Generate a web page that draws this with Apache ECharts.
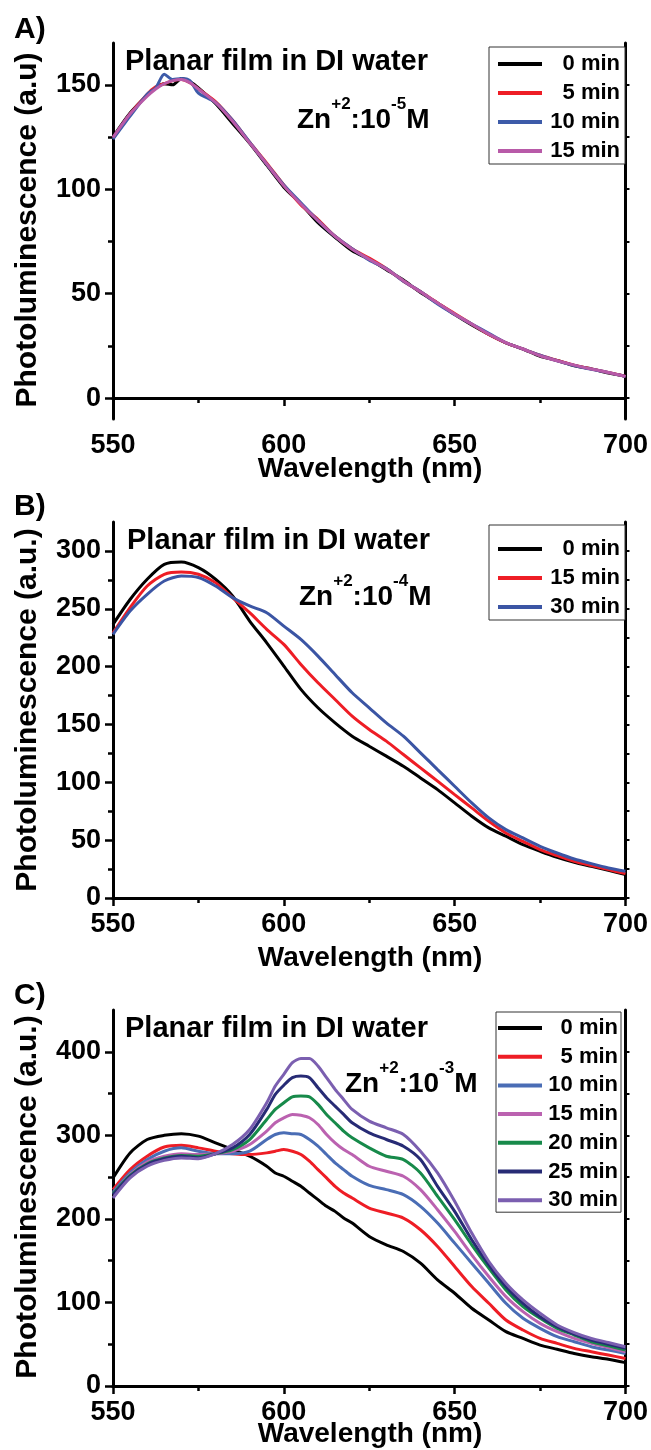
<!DOCTYPE html>
<html><head><meta charset="utf-8">
<script src="https://cdn.jsdelivr.net/npm/echarts@6/dist/echarts.min.js"></script>
<style>html,body{margin:0;padding:0;background:#fff}#chart{width:651px;height:1450px}</style>
</head><body><div id="chart"></div>
<script>
// ---------- DATA ----------
const xTicks = [550, 600, 650, 700];
const xMinorTicks = [575, 625, 675];

// Panel A  (Zn+2 10^-5 M)
const wlA = [550,555,560,562.5,565,567.5,570,572.5,575,580,585,590,595,600,605,610,615,620,625,630,635,640,645,650,655,660,665,670,675,680,685,690,695,700];
const A_0min  = [125,136.5,145,148.5,150.5,150,153,151.5,148.5,141,131.5,122,111.5,101,93,84,77,70.5,66.5,61.5,56.5,50.5,45.5,40,35,30.5,26.5,23.5,20,18,15.5,14,12,10.5];
const A_5min  = [124.5,136,145.5,149,150.5,152,152.5,151,148,142,133,122.5,112.5,102,92.5,85.5,77.5,71.5,67,62,56,51,45.5,40.5,35.5,30.5,26.5,23.5,20.5,18,15.8,14,12.3,10.4];
const A_10min = [124,135,145.5,148.5,155,152.5,153,152,146,141.5,133,122.5,112,102,93.5,85,77.5,71.5,66,62,56,51,45,40,35.5,31,26.5,23.5,20.5,17.8,15.6,13.8,12.2,10.3];
const A_15min = [124.8,136,144.5,148,150.5,152,152.5,151,148,141.5,132.5,122.2,112,101.6,92.9,84.9,77.4,71.3,66.5,61.8,56.2,50.9,45.5,40.2,35.4,30.6,26.6,23.5,20.3,17.9,15.8,13.9,12.3,10.4];
const yTicksA = [0, 50, 100, 150];
const yMinorA = [25, 75, 125];
const yRightA = [0, 25, 50, 75, 100, 125, 150];

// Panel B  (Zn+2 10^-4 M)
const wlB = [550,555,560,565,570,575,580,585,590,595,600,605,610,615,620,625,630,635,640,645,650,655,660,665,670,675,680,685,690,695,700];
const B_0min  = [236.5,258,275.5,288.4,290.4,285.5,275.5,261,239.4,220.6,200.5,180.3,164.4,151.4,139.9,131.2,122.6,113.9,103.8,93.7,82.2,70.7,60.6,53.4,46.1,40.4,35.2,30.9,27.4,23.9,20.2];
const B_15min = [229,251,269.7,279.8,281.8,279.8,272.6,259.6,246.6,232.2,219.2,201.9,186,171.6,157.2,145.7,135.6,124,112.5,101,89.4,77.9,66.3,56.2,49,41.8,36.6,31.7,28,24.5,21.1];
const B_30min = [227.9,248,262.5,274,278.3,277,269.7,259.6,252.4,246.6,235,223.5,209.1,193.2,177.4,164.4,151.4,139.9,125.5,111,96.6,82.2,69.2,59.1,51.9,44.7,38.9,33.7,29.7,26,23.1];
const yTicksB = [0, 50, 100, 150, 200, 250, 300];
const yMinorB = [25, 75, 125, 175, 225, 275];
const yRightB = [0,25,50,75,100,125,150,175,200,225,250,275,300];

// Panel C  (Zn+2 10^-3 M)
const wlC = [550,555,560,565,570,575,580,585,590,595,597.5,600,602.5,605,607.5,610,612.5,615,617.5,620,625,630,635,640,645,650,655,660,665,670,675,680,685,690,695,700];
const C_0min  = [249,279,295,300,302,299,291,283,275,263,255,251,245,239,231,223,215,209,201,195,179,169,161,147,127,111,93,79,65,57,49,44,39,35,32,28];
const C_5min  = [235,259,275,286,288,285,281,278,277,279,281,283,281,277,269,259,249,239,231,225,213,207,201,187,167,143,119,99,79,67,57,51,45,41,37,33];
const C_10min = [232,255,271,281,285,281,278,278,281,295,301,303,302,301,295,287,277,267,259,251,240,235,229,215,195,171,147,123,99,81,69,59,53,47,43,39];
const C_15min = [230,253,268,275,278,277,278,281,289,305,315,321,325,324,321,313,301,291,283,277,263,257,251,235,211,185,157,131,107,89,75,65,57,51,46,41];
const C_20min = [230,252,266,273,276,275,278,283,295,319,331,339,346,347,346,337,325,315,305,297,285,275,271,255,227,199,169,141,115,95,81,69,61,53,48,43];
const C_25min = [229,251,265,272,275,273,278,285,301,331,349,360,369,371,369,357,345,335,325,315,303,295,287,271,239,209,175,145,119,99,83,71,62,55,50,45];
const C_30min = [225,249,263,270,273,272,278,289,307,339,359,373,387,392,392,383,369,355,343,331,317,309,301,281,255,221,183,149,123,103,87,73,64,57,52,47];
const yTicksC = [0, 100, 200, 300, 400];
const yMinorC = [50, 150, 250, 350];
const yRightC = [0,50,100,150,200,250,300,350,400];

// ---------- CHART ----------
const FF = "'Liberation Sans', Arial, Helvetica, sans-serif";
const chart = echarts.init(document.getElementById('chart'), null, {renderer: 'canvas'});

const panels = [
  {top: 43, ymin: -10, ymax: 170, yt: yTicksA, ym: yMinorA, yr: yRightA},
  {top: 522, ymin: 0, ymax: 325, yt: yTicksB, ym: yMinorB, yr: yRightB},
  {top: 1010, ymin: 0, ymax: 450, yt: yTicksC, ym: yMinorC, yr: yRightC}
];
const grids = [], xAxes = [], yAxes = [];
panels.forEach((p, i) => {
  grids.push({left: 113, width: 513, top: p.top, height: 376, containLabel: false});
  const axLine = {show: true, lineStyle: {color: '#000', width: 3}};
  xAxes.push({gridIndex: i, type: 'value', min: 550, max: 700, position: 'bottom',
    axisLine: axLine, splitLine: {show: false},
    axisTick: {show: true, customValues: xTicks, length: 8, lineStyle: {color: '#000', width: 2.5}},
    axisLabel: {customValues: xTicks, fontSize: 27, fontWeight: 'bold', color: '#000', fontFamily: FF, margin: 13}});
  xAxes.push({gridIndex: i, type: 'value', min: 550, max: 700, position: 'bottom',
    axisLine: {show: false}, splitLine: {show: false}, axisLabel: {show: false},
    axisTick: {show: true, customValues: xMinorTicks, length: 5, lineStyle: {color: '#000', width: 2.5}}});
  xAxes.push({gridIndex: i, type: 'value', min: 550, max: 700, position: 'top',
    axisLine: axLine, splitLine: {show: false}, axisLabel: {show: false}, axisTick: {show: false}});
  yAxes.push({gridIndex: i, type: 'value', min: p.ymin, max: p.ymax, position: 'left',
    axisLine: axLine, splitLine: {show: false},
    axisTick: {show: true, customValues: p.yt, length: 8, lineStyle: {color: '#000', width: 2.5}},
    axisLabel: {customValues: p.yt, fontSize: 27, fontWeight: 'bold', color: '#000', fontFamily: FF, margin: 12}});
  yAxes.push({gridIndex: i, type: 'value', min: p.ymin, max: p.ymax, position: 'left',
    axisLine: {show: false}, splitLine: {show: false}, axisLabel: {show: false},
    axisTick: {show: true, customValues: p.ym, length: 5, lineStyle: {color: '#000', width: 2.5}}});
  yAxes.push({gridIndex: i, type: 'value', min: p.ymin, max: p.ymax, position: 'right',
    axisLine: axLine, splitLine: {show: false}, axisLabel: {show: false},
    axisTick: {show: true, customValues: p.yr, length: 4, lineStyle: {color: '#000', width: 2}}});
});

function zip(xs, ys) { return xs.map((x, k) => [x, ys[k]]); }
const series = [];
function addSeries(panel, label, xs, ys, color) {
  series.push({
    name: 'P' + panel + '#' + label, type: 'line', xAxisIndex: panel * 3, yAxisIndex: panel * 3,
    data: zip(xs, ys), showSymbol: false, symbol: 'none', smooth: 0.25,
    itemStyle: {color: color}, lineStyle: {color: color, width: 3}, animation: false, z: 3
  });
}
const RED = '#ee1d25', BLACK = '#000000';
addSeries(0, '0 min', wlA, A_0min, BLACK);
addSeries(0, '5 min', wlA, A_5min, RED);
addSeries(0, '10 min', wlA, A_10min, '#3d5ba9');
addSeries(0, '15 min', wlA, A_15min, '#b85aa8');
addSeries(1, '0 min', wlB, B_0min, BLACK);
addSeries(1, '15 min', wlB, B_15min, RED);
addSeries(1, '30 min', wlB, B_30min, '#3b55a4');
addSeries(2, '0 min', wlC, C_0min, BLACK);
addSeries(2, '5 min', wlC, C_5min, RED);
addSeries(2, '10 min', wlC, C_10min, '#4a6db5');
addSeries(2, '15 min', wlC, C_15min, '#bb62b0');
addSeries(2, '20 min', wlC, C_20min, '#178a4a');
addSeries(2, '25 min', wlC, C_25min, '#272b75');
addSeries(2, '30 min', wlC, C_30min, '#7b5fb0');

function legend(panel, labels, left, top, padding, gap, textW) {
  return {
    data: labels.map(l => 'P' + panel + '#' + l), orient: 'vertical', left: left, top: top,
    padding: padding, itemGap: gap, itemWidth: 44, itemHeight: 4, icon: 'rect',
    borderColor: '#333', borderWidth: 1, backgroundColor: '#fff', selectedMode: false,
    formatter: n => '{t|' + n.split('#')[1] + '}',
    textStyle: {color: '#000', fontSize: 22, fontWeight: 'bold', fontFamily: FF, lineHeight: 22,
      rich: {t: {width: textW, align: 'right', fontSize: 22, fontWeight: 'bold', fontFamily: FF, color: '#000', lineHeight: 22}}}
  };
}
const legends = [
  legend(0, ['0 min', '5 min', '10 min', '15 min'], 489, 47, [6, 5, 2, 9], 7, 73),
  legend(1, ['0 min', '15 min', '30 min'], 489, 525, [13, 5, 2, 9], 7, 73),
  legend(2, ['0 min', '5 min', '10 min', '15 min', '20 min', '25 min', '30 min'], 496, 1012, [5, 3, 1, 2], 6.7, 71)
];

function txt(x, y, text, size, align, rot) {
  const el = {type: 'text', x: x, y: y, z: 100,
    style: {text: text, fill: '#000', font: 'bold ' + size + 'px ' + FF,
      align: align || 'left', verticalAlign: 'middle', textAlign: align || 'left', textVerticalAlign: 'middle'}};
  if (rot) el.rotation = rot;
  return el;
}
function zn(x, y, exp) {
  return {type: 'text', x: x, y: y, z: 100,
    style: {text: '{b|Zn}{s|+2}{b|:10}{s|' + exp + '}{b|M}', fill: '#000',
      align: 'left', verticalAlign: 'middle', textAlign: 'left', textVerticalAlign: 'middle',
      rich: {
        b: {fontSize: 28, fontWeight: 'bold', fontFamily: FF, lineHeight: 38, verticalAlign: 'bottom', fill: '#000', color: '#000'},
        s: {fontSize: 17, fontWeight: 'bold', fontFamily: FF, lineHeight: 16, verticalAlign: 'top', fill: '#000', color: '#000'}
      }}};
}
const graphics = [
  txt(14, 30, 'A)', 30), txt(14, 507, 'B)', 30), txt(14, 996, 'C)', 30),
  txt(125, 62, 'Planar film in DI water', 29), txt(127, 541, 'Planar film in DI water', 29), txt(125, 1029, 'Planar film in DI water', 29),
  zn(297, 115, '-5'), zn(299, 592, '-4'), zn(345, 1079, '-3'),
  txt(28, 230, 'Photoluminescence (a.u)', 30, 'center', Math.PI / 2),
  txt(28, 710, 'Photoluminescence (a.u.)', 30, 'center', Math.PI / 2),
  txt(28, 1197, 'Photoluminescence (a.u.)', 30, 'center', Math.PI / 2),
  txt(370, 469, 'Wavelength (nm)', 28, 'center'),
  txt(370, 958, 'Wavelength (nm)', 28, 'center'),
  txt(370, 1434, 'Wavelength (nm)', 28, 'center')
];

chart.setOption({
  animation: false, backgroundColor: '#fff',
  grid: grids, xAxis: xAxes, yAxis: yAxes, series: series, legend: legends, graphic: graphics
});
</script></body></html>
